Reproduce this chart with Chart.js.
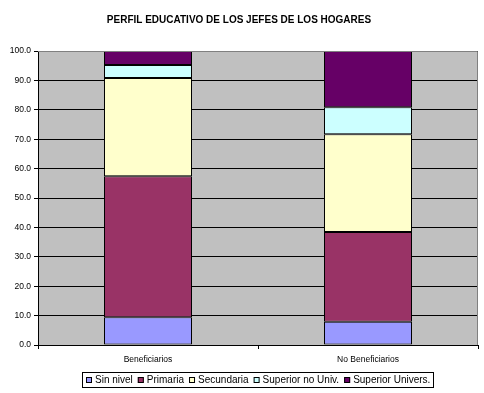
<!DOCTYPE html>
<html>
<head>
<meta charset="utf-8">
<script src="https://cdn.jsdelivr.net/npm/chart.js@4"></script>
<style>
    html, body { margin: 0; padding: 0; background: #ffffff; }
    #wrap { width: 484px; height: 393px; }
</style>
</head>
<body>
<div id="wrap"><canvas id="graphique"></canvas></div>
<script>
// Données (pourcentages)
const categories = ["Beneficiarios", "No Beneficiarios"];
const sinNivel = [9.4, 7.9];
const primaria = [48.0, 30.5];
const secundaria = [33.4, 33.3];
const superiorNoUniv = [4.4, 9.2];
const superiorUnivers = [4.8, 19.1];
const yTicks = [0, 10, 20, 30, 40, 50, 60, 70, 80, 90, 100];

const series = [
    { label: "Sin nivel", data: sinNivel, color: "#9999FF" },
    { label: "Primaria", data: primaria, color: "#993366" },
    { label: "Secundaria", data: secundaria, color: "#FFFFCC" },
    { label: "Superior no Univ.", data: superiorNoUniv, color: "#CCFFFF" },
    { label: "Superior Univers.", data: superiorUnivers, color: "#660066" }
];

const police = "Arial, 'Liberation Sans', sans-serif";

// Fond gris de la zone de tracé, cadre gris et légende encadrée façon Excel
const fondGris = {
    id: "fondGris",
    beforeDraw(chart) {
        const { ctx, chartArea: a } = chart;
        ctx.save();
        ctx.fillStyle = "#C0C0C0";
        ctx.fillRect(a.left, a.top, a.right - a.left, a.bottom - a.top);
        ctx.restore();
    },
    afterDatasetsDraw(chart) {
        const { ctx, chartArea: a } = chart;
        ctx.save();
        ctx.strokeStyle = "#808080";
        ctx.lineWidth = 1;
        ctx.beginPath();
        ctx.moveTo(a.left, a.top + 0.5);
        ctx.lineTo(a.right - 0.5, a.top + 0.5);
        ctx.lineTo(a.right - 0.5, a.bottom);
        ctx.stroke();
        ctx.restore();
    },
    afterDraw(chart) {
        const { ctx, chartArea: a } = chart;
        const items = chart.data.datasets;
        ctx.save();
        ctx.font = "10px " + police;
        const boite = 6, ecartTexte = 3, ecartItem = 5;
        const largeurs = items.map(d => boite + ecartTexte + ctx.measureText(d.label).width);
        const total = largeurs.reduce((s, w) => s + w, 0) + ecartItem * (items.length - 1);
        const cx = (a.left + a.right) / 2;
        const cy = 380;
        let x = Math.round(cx - total / 2);
        // cadre
        ctx.strokeStyle = "#000000";
        ctx.lineWidth = 1;
        ctx.strokeRect(x - 3.5, 372.5, Math.round(total) + 7, 15);
        ctx.textBaseline = "middle";
        ctx.fillStyle = "#000000";
        items.forEach((d, i) => {
            ctx.fillStyle = d.backgroundColor;
            ctx.fillRect(x, cy - 3, boite, boite);
            ctx.strokeRect(x + 0.5, cy - 2.5, boite - 1, boite - 1);
            ctx.fillStyle = "#000000";
            ctx.fillText(d.label, x + boite + ecartTexte, cy + 0.5);
            x += largeurs[i] + ecartItem;
        });
        ctx.restore();
    }
};

new Chart(document.querySelector("#graphique"), {
    type: "bar",
    data: {
        labels: categories,
        datasets: series.map(s => ({
            label: s.label,
            data: s.data,
            backgroundColor: s.color,
            borderColor: "#000000",
            borderWidth: 1,
            borderSkipped: false,
            categoryPercentage: 1.0,
            barPercentage: 0.4
        }))
    },
    options: {
        responsive: true,
        maintainAspectRatio: false,
        animation: false,
        devicePixelRatio: 1,
        layout: { padding: { left: 0, right: 6, top: 0, bottom: 22 } },
        plugins: {
            title: {
                display: true,
                text: "PERFIL EDUCATIVO DE LOS JEFES DE LOS HOGARES",
                color: "#000000",
                font: { family: police, size: 10, weight: "bold" },
                padding: { top: 14, bottom: 25 }
            },
            legend: { display: false },
            tooltip: { enabled: false }
        },
        scales: {
            x: {
                stacked: true,
                afterFit(scale) { scale.height = 26; },
                grid: {
                    display: true,
                    offset: true,
                    drawOnChartArea: false,
                    drawTicks: true,
                    tickLength: 4,
                    color: "#000000"
                },
                border: { display: true, color: "#000000" },
                ticks: {
                    color: "#000000",
                    padding: 6,
                    font: { family: police, size: 8.5 }
                }
            },
            y: {
                stacked: true,
                min: 0,
                max: 100,
                afterFit(scale) { scale.width = 38; },
                afterBuildTicks(scale) { scale.ticks = yTicks.map(v => ({ value: v })); },
                grid: {
                    color: "#000000",
                    drawTicks: true,
                    tickLength: 4
                },
                border: { display: true, color: "#000000" },
                ticks: {
                    color: "#000000",
                    padding: 3,
                    font: { family: police, size: 8.5 },
                    callback: v => Number(v).toFixed(1)
                }
            }
        }
    },
    plugins: [fondGris]
});
</script>
</body>
</html>
